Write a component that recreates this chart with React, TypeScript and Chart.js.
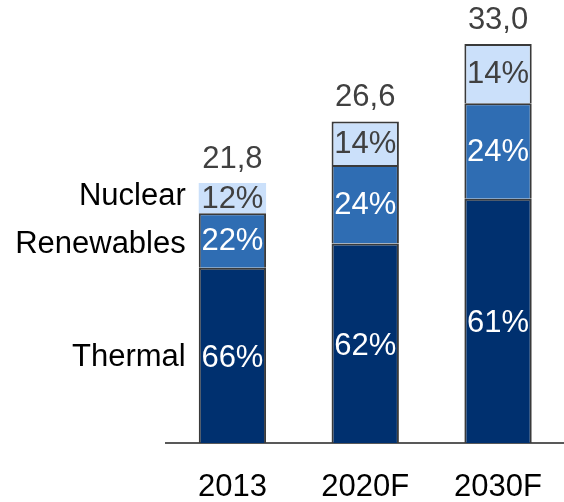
import React, { useEffect, useRef } from "react";
import { Chart, registerables } from "chart.js";

Chart.register(...registerables);

const categories = ["2013", "2020F", "2030F"];
const thermal = [14.5, 16.5, 20.2];
const renewables = [4.5, 6.5, 7.9];
const nuclear = [2.5, 3.6, 4.9];
const thermalPct = ["66%", "62%", "61%"];
const renewablesPct = ["22%", "24%", "24%"];
const nuclearPct = ["12%", "14%", "14%"];
const totals = ["21,8", "26,6", "33,0"];
const seriesNames = ["Thermal", "Renewables", "Nuclear"];

const FONT = "'Liberation Sans', Arial, sans-serif";

const labelPlugin = {
  id: "labels",
  afterDatasetsDraw(chart: any) {
    const ctx = chart.ctx;
    ctx.save();
    ctx.font = `31px ${FONT}`;
    ctx.textBaseline = "middle";
    const pctSets = [thermalPct, renewablesPct, nuclearPct];
    const colors = ["#ffffff", "#ffffff", "#404040"];
    const pctOff = [3, 1, 1];
    for (let d = 0; d < 3; d++) {
      const meta = chart.getDatasetMeta(d);
      meta.data.forEach((bar: any, i: number) => {
        const cy = (bar.y + bar.base) / 2;
        ctx.textAlign = "center";
        ctx.fillStyle = colors[d];
        ctx.fillText(pctSets[d][i], bar.x, cy + pctOff[d]);
        if (i === 0) {
          ctx.textAlign = "right";
          ctx.fillStyle = "#000000";
          const left = bar.x - bar.width / 2 - 13;
          const off = d === 1 ? 4 : d === 2 ? -2 : 2;
          ctx.fillText(seriesNames[d], left, cy + off);
        }
      });
    }
    const top = chart.getDatasetMeta(2);
    top.data.forEach((bar: any, i: number) => {
      ctx.textAlign = "center";
      ctx.fillStyle = "#404040";
      ctx.fillText(totals[i], bar.x, bar.y - 24);
    });
    ctx.restore();
  },
};

export default function App() {
  const ref = useRef<HTMLCanvasElement>(null);
  useEffect(() => {
    if (!ref.current) return;
    const chart = new Chart(ref.current, {
      type: "bar",
      data: {
        labels: categories,
        datasets: [
          {
            label: seriesNames[0],
            data: thermal,
            backgroundColor: "#00306f",
            borderColor: "#3a3a3a",
            borderWidth: 2,
          },
          {
            label: seriesNames[1],
            data: renewables,
            backgroundColor: "#2f6db3",
            borderColor: "#3a3a3a",
            borderWidth: 2,
          },
          {
            label: seriesNames[2],
            data: nuclear,
            backgroundColor: "#cbe0fa",
            borderColor: "#3a3a3a",
            borderWidth: [0, 2, 2],
          },
        ],
      },
      options: {
        responsive: false,
        animation: false,
        layout: { padding: { left: 166, top: 44, right: 0, bottom: 0 } },
        plugins: { legend: { display: false }, tooltip: { enabled: false } },
        datasets: { bar: { categoryPercentage: 1, barPercentage: 0.507 } },
        scales: {
          x: {
            stacked: true,
            grid: { display: false, drawTicks: false },
            border: { display: true, color: "#595959", width: 2 },
            ticks: { font: { size: 31, family: FONT }, color: "#000000", padding: 26 },
            afterFit: (scale: any) => {
              scale.height = 59;
            },
          },
          y: {
            stacked: true,
            display: false,
            min: 0,
            max: 33,
          },
        },
      },
      plugins: [labelPlugin],
    });
    return () => chart.destroy();
  }, []);
  return (
    <div style={{ position: "absolute", left: 0, top: 0, width: 564, height: 502, overflow: "hidden" }}>
      <canvas ref={ref} width={568} height={502} style={{ display: "block" }} />
    </div>
  );
}
